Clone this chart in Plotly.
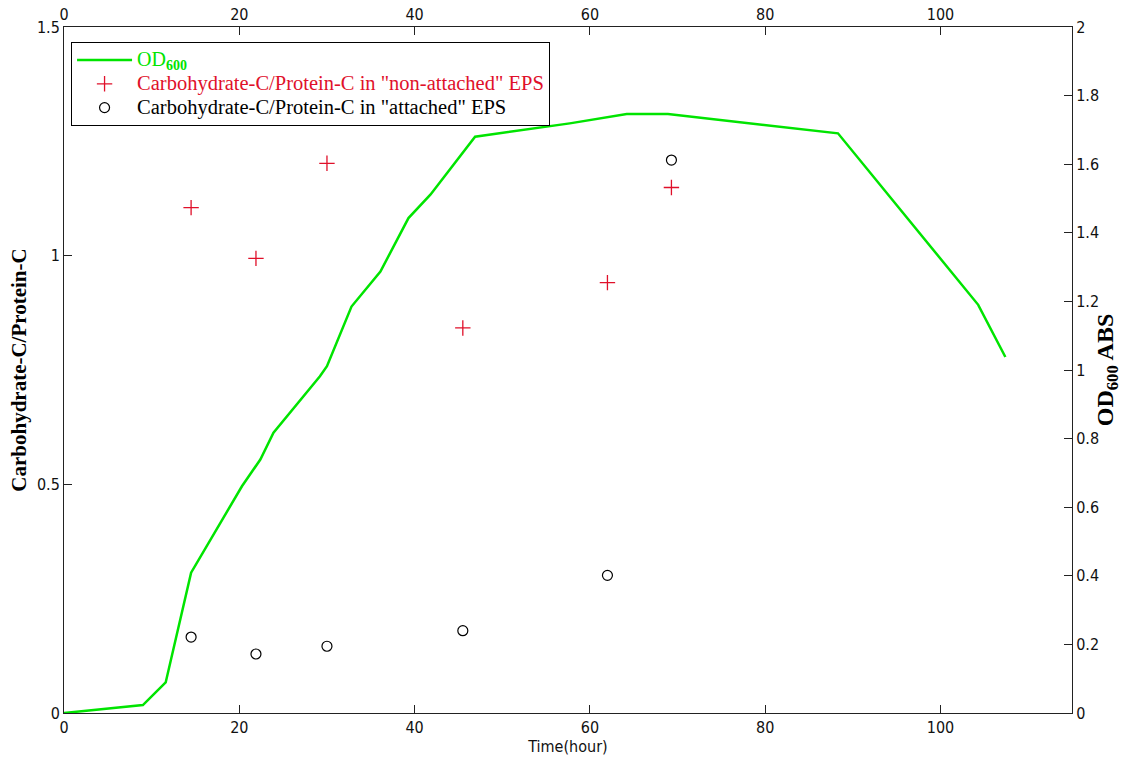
import plotly.graph_objects as go

# OD600 growth curve (right axis)
od_time = [0, 1.8, 9.0, 11.6, 14.5, 20.3, 22.4, 23.9, 29.2, 30.0, 32.8, 36.1, 39.3,
           41.8, 46.9, 57.7, 64.2, 68.9, 88.3, 104.3, 107.4]
od_values = [0.0, 0.005, 0.023, 0.089, 0.409, 0.661, 0.739, 0.817, 0.982, 1.011, 1.185,
             1.287, 1.443, 1.511, 1.680, 1.719, 1.746, 1.746, 1.690, 1.190, 1.038]

# Carbohydrate-C / Protein-C ratios (left axis)
eps_time = [14.5, 21.9, 30.0, 45.5, 62.0, 69.3]
non_attached = [1.105, 0.994, 1.202, 0.842, 0.941, 1.149]
attached = [0.166, 0.129, 0.146, 0.180, 0.301, 1.209]

x_ticks = [0, 20, 40, 60, 80, 100]
y1_ticks = [0, 0.5, 1, 1.5]
y1_labels = ["0", "0.5", "1", "1.5"]
y2_ticks = [0, 0.2, 0.4, 0.6, 0.8, 1, 1.2, 1.4, 1.6, 1.8, 2]
y2_labels = ["0", "0.2", "0.4", "0.6", "0.8", "1", "1.2", "1.4", "1.6", "1.8", "2"]

GREEN = "#00e400"
RED = "#e0102a"
TICKFONT = dict(family="Liberation Sans Narrow, Arial Narrow, DejaVu Sans Condensed, sans-serif",
                size=16, color="#111")
SERIF = "Liberation Serif, Times New Roman, serif"

fig = go.Figure()
fig.add_trace(go.Scatter(
    x=od_time, y=od_values, mode="lines", xaxis="x2", yaxis="y2",
    line=dict(color=GREEN, width=2.5),
    name="<span style='color:#00e400;font-size:20px'>OD<sub><b>600</b></sub></span>"))
fig.add_trace(go.Scatter(
    x=eps_time, y=non_attached, mode="markers", xaxis="x", yaxis="y",
    marker=dict(symbol="cross-thin", size=11, line=dict(color=RED, width=1.3), color=RED),
    name="<span style='color:#e0102a;font-size:20.5px'>Carbohydrate-C/Protein-C in \"non-attached\" EPS</span>"))
fig.add_trace(go.Scatter(
    x=eps_time, y=attached, mode="markers", xaxis="x", yaxis="y",
    marker=dict(symbol="circle-open", size=10, line=dict(color="black", width=1.2), color="black"),
    name="<span style='font-size:20.5px'>Carbohydrate-C/Protein-C in \"attached\" EPS</span>"))

axis_common = dict(showline=True, linecolor="#222", linewidth=1, ticks="inside",
                   ticklen=8, tickcolor="#222", showgrid=False, zeroline=False,
                   tickfont=TICKFONT, automargin=False)

fig.update_layout(
    width=1122, height=758,
    margin=dict(l=64, r=50, t=27, b=44.5, pad=0),
    paper_bgcolor="white", plot_bgcolor="white",
    showlegend=True,
    legend=dict(x=0.007, y=0.978, xanchor="left", yanchor="top",
                bordercolor="black", borderwidth=1, bgcolor="white",
                font=dict(family=SERIF, size=16, color="black"),
                itemwidth=55, tracegroupgap=0),
    xaxis=dict(range=[0, 115], tickvals=x_ticks, ticktext=[str(v) for v in x_ticks],
               title=dict(text="Time(hour)", font=TICKFONT, standoff=4), **axis_common),
    xaxis2=dict(range=[0, 115], overlaying="x", side="top", anchor="y2",
                tickvals=x_ticks, ticktext=[str(v) for v in x_ticks], **axis_common),
    yaxis=dict(range=[0, 1.5], tickvals=y1_ticks, ticktext=y1_labels,
               title=dict(text="<b>Carbohydrate-C/Protein-C</b>",
                          font=dict(family=SERIF, size=21, color="black"), standoff=4),
               **axis_common),
    yaxis2=dict(range=[0, 2], overlaying="y", side="right", anchor="x2",
                tickvals=y2_ticks, ticktext=y2_labels,
                title=dict(text="<b>OD<sub>600</sub> ABS</b>",
                           font=dict(family=SERIF, size=24, color="black"), standoff=4),
                **axis_common),
)

fig.write_html("out.html")
